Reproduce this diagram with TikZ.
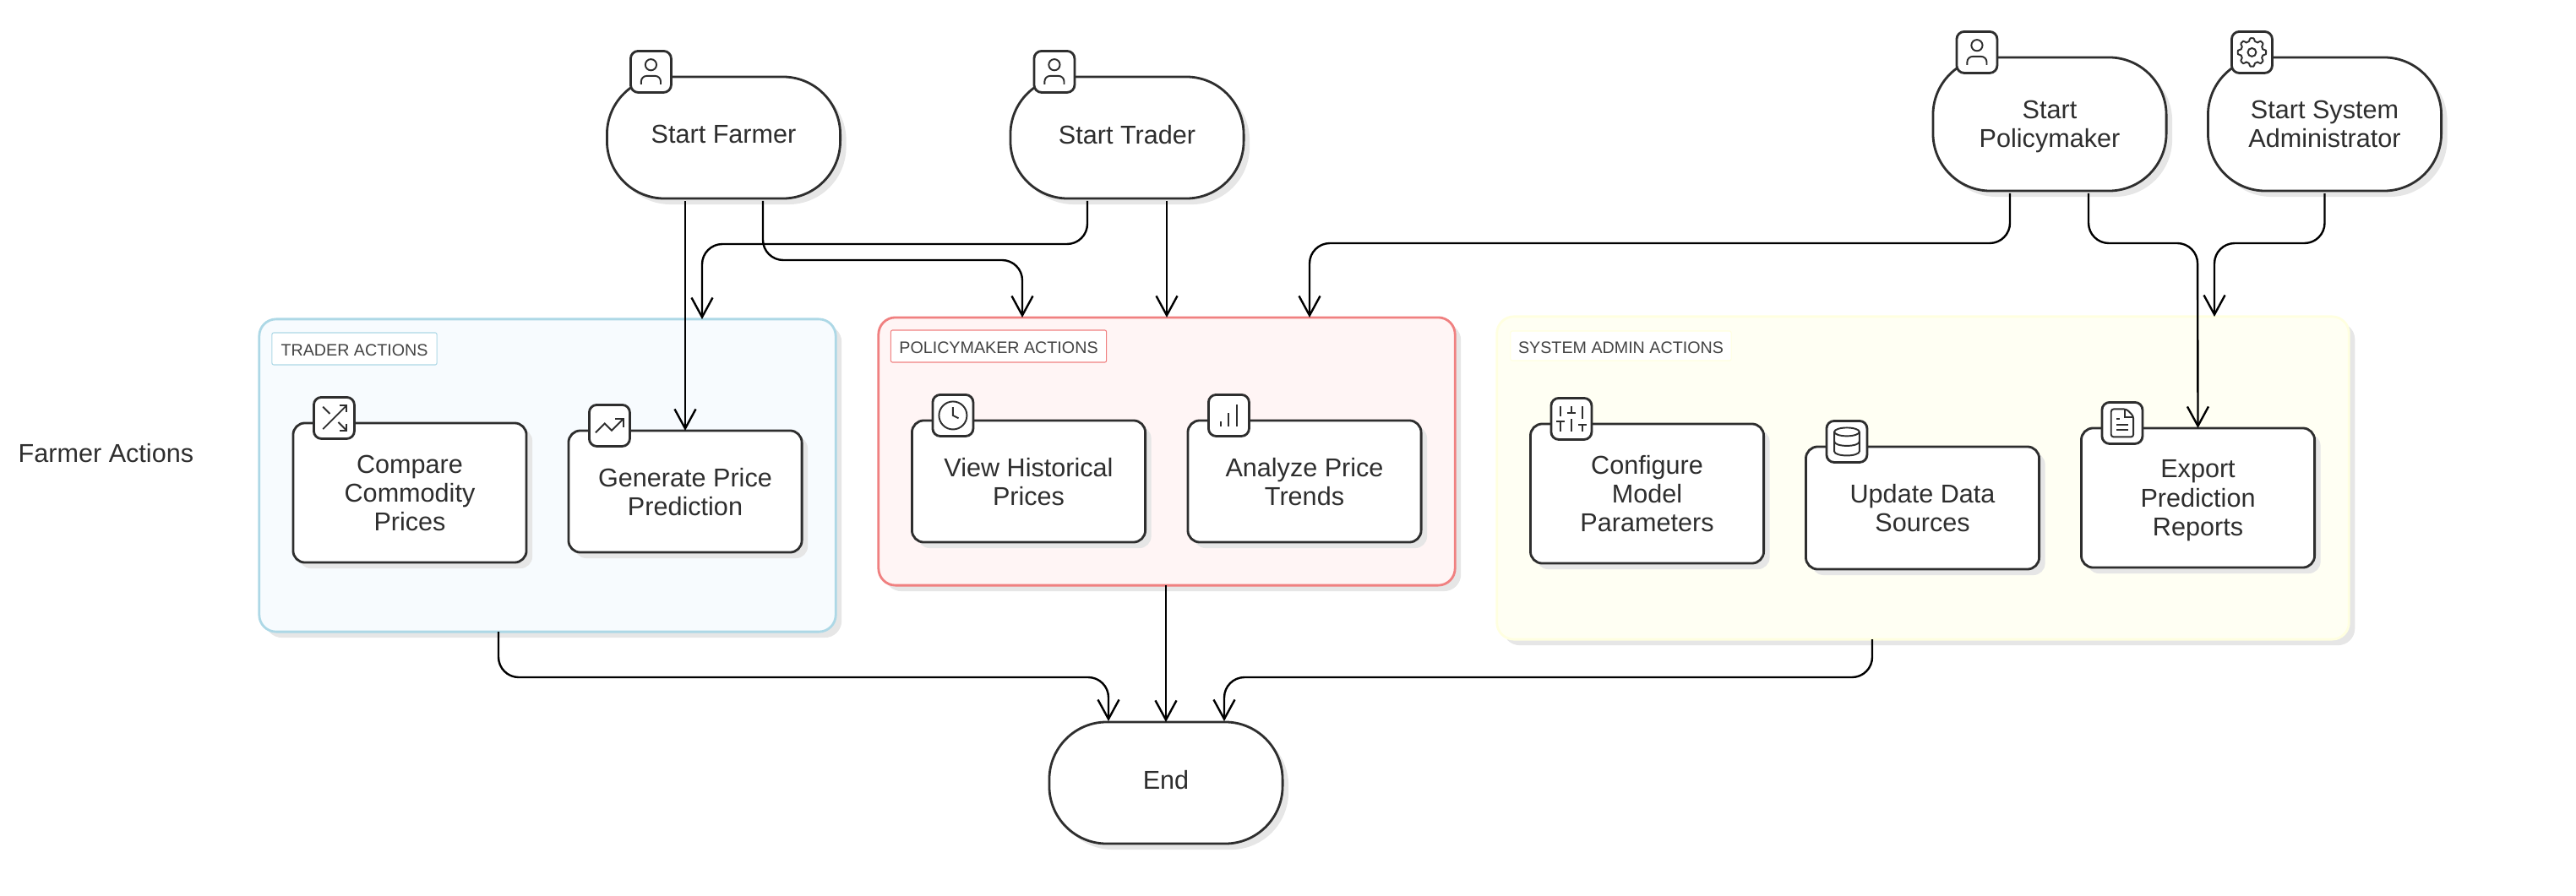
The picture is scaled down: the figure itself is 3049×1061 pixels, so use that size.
\documentclass[tikz,border=0pt]{standalone}
\usepackage{fontspec}
\setmainfont{Liberation Sans}
\usetikzlibrary{positioning,calc,shadows,arrows.meta}
\definecolor{inkgray}{HTML}{2E2E2E}
\definecolor{labelgray}{HTML}{444444}
\definecolor{shadegray}{HTML}{E6E6E6}
\definecolor{traderfill}{HTML}{F7FBFE}
\definecolor{traderline}{HTML}{ADD8E6}
\definecolor{policyfill}{HTML}{FFF5F5}
\definecolor{policyline}{HTML}{F08080}
\definecolor{adminfill}{HTML}{FFFFF3}
\definecolor{adminline}{HTML}{FFFFE0}
\tikzset{
    %arrow tip
    >={Straight Barb[length=.23cm,width=.25cm]},
    %connector
    pil/.style={
           ->,
           black,
           line width=.68pt,
           rounded corners=.24cm,
           shorten <=.03cm,},
    %shadow under boxes
    shade/.style={drop shadow={shadow xshift=.07cm,shadow yshift=-.07cm,fill=shadegray,opacity=1}},
    %rounded start and end nodes
    term/.style={draw=inkgray, line width=.8pt, fill=white, rectangle, rounded corners=.68cm, minimum width=2.76cm, minimum height=1.44cm, align=center, text=inkgray, outer sep=0pt, shade, text depth=0pt, font=\fontsize{8.7}{9.7}\selectfont},
    %action nodes
    task/.style={draw=inkgray, line width=.8pt, fill=white, rectangle, rounded corners=.14cm, minimum width=2.76cm, align=center, text=inkgray, outer sep=0pt, shade, text depth=0pt, font=\fontsize{8.7}{9.7}\selectfont},
    %group boxes
    group/.style={rectangle, rounded corners=.2cm, line width=.8pt, outer sep=0pt, shade},
    %group titles
    grouplabel/.style={rectangle, fill=white, rounded corners=.02cm, line width=.3pt, minimum height=.38cm, inner sep=0pt, text height=.17cm, text depth=0pt, text=labelgray, font=\fontsize{5.6}{7}\selectfont},
    %small square holding a glyph
    iconbox/.style={draw=inkgray, line width=.8pt, fill=white, rectangle, rounded corners=.09cm, minimum width=.48cm, minimum height=.49cm, inner sep=0pt, outer sep=0pt},
    glyph/.style={draw=inkgray, line width=.55pt, x=.0165cm, y=-.0165cm, shift={(-12,-12)}},
    iconperson/.pic={
        \draw[glyph] (12,7) circle (4);
        \draw[glyph, rounded corners=.066cm] (5,21) -- (5,15) -- (19,15) -- (19,21);
    },
    icongear/.pic={
        \draw[glyph] (12,12) circle (3);
        \draw[glyph, shift={(12,12)}] plot[domain=0:356, samples=90, smooth cycle] (\x:{9.1+2.1*max(-.5,min(.5,cos(8*\x)))});
    },
    iconshuffle/.pic={
        \draw[glyph] (16,3) -- (21,3) -- (21,8);
        \draw[glyph] (4,20) -- (21,3);
        \draw[glyph] (21,16) -- (21,21) -- (16,21);
        \draw[glyph] (15,15) -- (21,21);
        \draw[glyph] (4,4) -- (9,9);
    },
    icontrend/.pic={
        \draw[glyph] (22,7) -- (13.5,15.5) -- (8.5,10.5) -- (2,17);
        \draw[glyph] (16,7) -- (22,7) -- (22,13);
    },
    iconclock/.pic={
        \draw[glyph] (12,12) circle (10);
        \draw[glyph] (12,6) -- (12,12) -- (16,14);
    },
    iconbars/.pic={
        \draw[glyph] (12,20) -- (12,10);
        \draw[glyph] (18,20) -- (18,4);
        \draw[glyph] (6,20) -- (6,16);
    },
    iconsliders/.pic={
        \draw[glyph] (4,21) -- (4,14);
        \draw[glyph] (4,10) -- (4,3);
        \draw[glyph] (12,21) -- (12,12);
        \draw[glyph] (12,8) -- (12,3);
        \draw[glyph] (20,21) -- (20,16);
        \draw[glyph] (20,12) -- (20,3);
        \draw[glyph] (1,14) -- (7,14);
        \draw[glyph] (9,8) -- (15,8);
        \draw[glyph] (17,16) -- (23,16);
    },
    icondata/.pic={
        \draw[glyph] (12,5) ellipse (9 and 3);
        \draw[glyph] (21,12) .. controls (21,13.7) and (17,15) .. (12,15) .. controls (7,15) and (3,13.7) .. (3,12);
        \draw[glyph] (3,5) -- (3,19) .. controls (3,20.7) and (7,22) .. (12,22) .. controls (17,22) and (21,20.7) .. (21,19) -- (21,5);
    },
    iconfile/.pic={
        \draw[glyph, rounded corners=.03cm] (15,2) -- (4,2) -- (4,22) -- (20,22) -- (20,7) -- cycle;
        \draw[glyph] (14,2) -- (14,8) -- (20,8);
        \draw[glyph] (10,9) -- (8,9);
        \draw[glyph] (16,13) -- (8,13);
        \draw[glyph] (16,17) -- (8,17);
    },
}

\begin{document}
\begin{tikzpicture}[x=.01cm, y=-.01cm]
\useasboundingbox (0,0) rectangle (3049,1061);

\node[group, draw=traderline, fill=traderfill, minimum width=6.82cm, minimum height=3.70cm] (traderBox) at (648,563) {};
\node[group, draw=policyline, fill=policyfill, minimum width=6.82cm, minimum height=3.17cm] (policyBox) at (1381,534.5) {};
\node[group, draw=adminline, fill=adminfill, minimum width=10.08cm, minimum height=3.82cm] (adminBox) at (2276,566) {};

\node[grouplabel, draw=traderline, minimum width=1.95cm] (traderTitle) at (419.5,413) {TRADER ACTIONS};
\node[grouplabel, draw=policyline, minimum width=2.55cm] (policyTitle) at (1182,410) {POLICYMAKER ACTIONS};
\node[grouplabel, draw=adminline, minimum width=2.61cm, minimum height=.35cm] (adminTitle) at (1918.5,409.5) {SYSTEM ADMIN ACTIONS};

\node[text=inkgray, inner sep=0pt, anchor=west, font=\fontsize{8.7}{9.7}\selectfont] (farmerActions) at (21,537) {Farmer Actions};

\node[term, text depth=.08cm] (startFarmer) at (856.5,163) {Start Farmer};
\node[term, text depth=.08cm] (startTrader) at (1334,163) {Start Trader};
\node[term, minimum height=1.58cm] (startPolicy) at (2426,147) {Start\\Policymaker};
\node[term, minimum height=1.58cm] (startAdmin) at (2751.5,147) {Start System\\Administrator};
\node[term, text depth=.08cm] (endNode) at (1380,927) {End};

\node[task, minimum height=1.65cm] (compare) at (485,583.5) {Compare\\Commodity\\Prices};
\node[task, minimum height=1.44cm] (generate) at (811,582) {Generate Price\\Prediction};
\node[task, minimum height=1.44cm] (history) at (1217.5,570) {View Historical\\Prices};
\node[task, minimum height=1.44cm] (trends) at (1544,570) {Analyze Price\\Trends};
\node[task, minimum height=1.65cm] (configure) at (1949.5,584.5) {Configure\\Model\\Parameters};
\node[task, minimum height=1.45cm] (sources) at (2275.5,601.5) {Update Data\\Sources};
\node[task, minimum height=1.65cm] (export) at (2601.5,589.5) {Export\\Prediction\\Reports};

\node[iconbox] (farmerIcon) at ($(startFarmer.north west)+(52,-6)$) {};
\node[iconbox] (traderIcon) at ($(startTrader.north west)+(52,-6)$) {};
\node[iconbox] (policyIcon) at ($(startPolicy.north west)+(52,-6)$) {};
\node[iconbox] (adminIcon) at ($(startAdmin.north west)+(52,-6)$) {};
\node[iconbox] (compareIcon) at ($(compare.north west)+(48.5,-6)$) {};
\node[iconbox] (generateIcon) at ($(generate.north west)+(48.5,-6)$) {};
\node[iconbox] (historyIcon) at ($(history.north west)+(48.5,-6)$) {};
\node[iconbox] (trendsIcon) at ($(trends.north west)+(48.5,-6)$) {};
\node[iconbox] (configureIcon) at ($(configure.north west)+(48.5,-6)$) {};
\node[iconbox] (sourcesIcon) at ($(sources.north west)+(48.5,-6)$) {};
\node[iconbox] (exportIcon) at ($(export.north west)+(48.5,-6)$) {};

\pic at (farmerIcon) {iconperson};
\pic at (traderIcon) {iconperson};
\pic at (policyIcon) {iconperson};
\pic at (adminIcon) {icongear};
\pic at (compareIcon) {iconshuffle};
\pic at (generateIcon) {icontrend};
\pic at (historyIcon) {iconclock};
\pic at (trendsIcon) {iconbars};
\pic at (configureIcon) {iconsliders};
\pic at (sourcesIcon) {icondata};
\pic at (exportIcon) {iconfile};

\coordinate (farmerOut) at (903,235);
\coordinate (traderOut) at (1287,235);
\coordinate (policyOutA) at (2379,226);
\coordinate (policyOutB) at (2472,226);
\coordinate (traderIn) at (831,378);
\coordinate (farmerIn) at (1210,376);
\coordinate (policyIn) at (1550,376);
\coordinate (adminIn) at (2621,375);
\coordinate (traderDone) at (590,748);
\coordinate (adminDone) at (2216,757);
\coordinate (endLeft) at (1312,854);
\coordinate (endRight) at (1449,854);

\draw[pil] (startFarmer.south -| generate.north) -- (generate.north);
\draw[pil] (farmerOut) |- (1210,308) -- (farmerIn);
\draw[pil] (traderOut) |- (831,289) -- (traderIn);
\draw[pil] (traderOut -| policyBox.north) -- (policyBox.north);
\draw[pil] (policyOutA) |- (1550,288) -- (policyIn);
\draw[pil] (policyOutB) |- (2601,288) -- (export.north);
\draw[pil] (startAdmin.south) |- (2621,288) -- (adminIn);
\draw[pil,shorten <=0pt] (traderDone) |- (1312,802) -- (endLeft);
\draw[pil,shorten <=0pt] (policyBox.south -| endNode.north) -- (endNode.north);
\draw[pil,shorten <=0pt] (adminDone) |- (1449,802) -- (endRight);

\end{tikzpicture}
\end{document}
